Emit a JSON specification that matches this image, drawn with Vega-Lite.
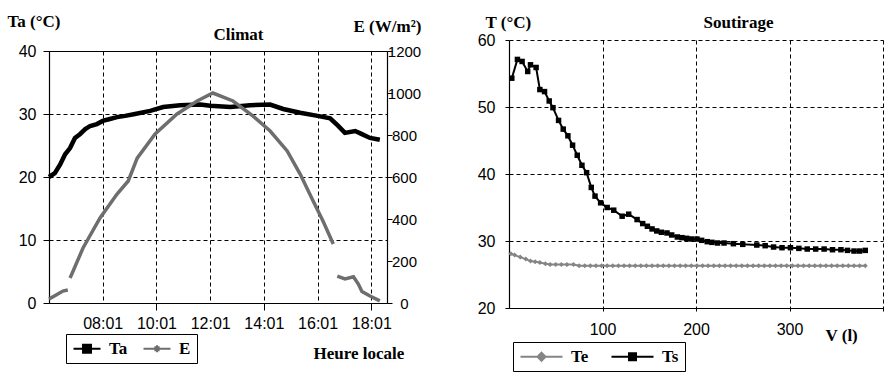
{
  "$schema": "https://vega.github.io/schema/vega-lite/v6.json",
  "background": "white",
  "padding": {"left": 7, "top": 12, "right": 0, "bottom": 0},
  "bounds": "flush",
  "spacing": 460,
  "resolve": {"scale": {"x": "independent", "y": "independent", "color": "independent"}, "legend": {"color": "independent"}},
  "hconcat": [
    {
      "bounds": "flush",
      "spacing": 10,
      "vconcat": [
        {"width": 338, "height": 1, "data": {"values": [{"a": 1}]}, "mark": {"type": "text", "text": ""}, "encoding": {}},
        {
          "width": 338,
          "height": 252,
          "resolve": {"scale": {"y": "independent"}},
          "layer": [
            {
              "data": {"values": [
                {"t": "06:01", "Ta": 20}, {"t": "06:14", "Ta": 20.6}, {"t": "06:26", "Ta": 22}, {"t": "06:37", "Ta": 23.6},
                {"t": "06:48", "Ta": 24.6}, {"t": "06:59", "Ta": 26.2}, {"t": "07:10", "Ta": 26.8}, {"t": "07:22", "Ta": 27.6},
                {"t": "07:33", "Ta": 28.1}, {"t": "07:48", "Ta": 28.4}, {"t": "08:01", "Ta": 28.9}, {"t": "08:17", "Ta": 29.2},
                {"t": "08:33", "Ta": 29.5}, {"t": "08:51", "Ta": 29.7}, {"t": "09:13", "Ta": 30}, {"t": "09:47", "Ta": 30.5},
                {"t": "10:16", "Ta": 31.1}, {"t": "10:54", "Ta": 31.4}, {"t": "11:39", "Ta": 31.5}, {"t": "12:01", "Ta": 31.3},
                {"t": "12:46", "Ta": 31.1}, {"t": "13:30", "Ta": 31.4}, {"t": "14:15", "Ta": 31.5}, {"t": "14:44", "Ta": 30.8},
                {"t": "15:22", "Ta": 30.2}, {"t": "16:01", "Ta": 29.7}, {"t": "16:29", "Ta": 29.3}, {"t": "16:47", "Ta": 28.1},
                {"t": "17:02", "Ta": 27.0}, {"t": "17:25", "Ta": 27.3}, {"t": "17:40", "Ta": 26.8}, {"t": "17:58", "Ta": 26.2},
                {"t": "18:20", "Ta": 25.9}
              ], "format": {"parse": {"t": "date:'%H:%M'"}}},
              "mark": {"type": "line", "strokeWidth": 4.5},
              "encoding": {
                "x": {"field": "t", "type": "temporal",
                  "scale": {"domain": [{"year": 1900, "month": 1, "date": 1, "hours": 6, "minutes": 1}, {"year": 1900, "month": 1, "date": 1, "hours": 18, "minutes": 36}], "nice": false},
                  "axis": {"orient": "bottom", "format": "%H:%M",
                    "values": [{"year": 1900, "month": 1, "date": 1, "hours": 8, "minutes": 1}, {"year": 1900, "month": 1, "date": 1, "hours": 10, "minutes": 1}, {"year": 1900, "month": 1, "date": 1, "hours": 12, "minutes": 1}, {"year": 1900, "month": 1, "date": 1, "hours": 14, "minutes": 1}, {"year": 1900, "month": 1, "date": 1, "hours": 16, "minutes": 1}, {"year": 1900, "month": 1, "date": 1, "hours": 18, "minutes": 1}],
                    "grid": true, "tickSize": 7,
                    "tickOpacity": {"condition": {"test": "hours(datum.value) % 4 == 2", "value": 1}, "value": 0},
                    "labelPadding": 5, "labelFontSize": 16,
                    "title": "Heure locale", "titleX": 264, "titleY": 55, "titleAlign": "left", "titleBaseline": "alphabetic"}},
                "y": {"field": "Ta", "type": "quantitative", "scale": {"domain": [0, 40], "nice": false},
                  "axis": {"orient": "left", "values": [0, 10, 20, 30, 40], "grid": true, "tickSize": 6, "labelPadding": 7, "labelFontSize": 16,
                    "title": "Ta (°C)", "titleAngle": 0, "titleAlign": "left", "titleBaseline": "alphabetic", "titleX": -42, "titleY": -25}},
                "color": {"datum": "Ta", "type": "nominal",
                  "scale": {"domain": ["Ta", "E"], "range": ["#000000", "#6e6e6e"]},
                  "legend": {"orient": "none", "legendX": 17, "legendY": 294, "direction": "horizontal", "title": null,
                    "strokeColor": "black", "fillColor": "white", "padding": 6, "symbolSize": 196, "symbolStrokeWidth": 2,
                    "labelOffset": 20, "columnPadding": 11, "labelFont": "Liberation Serif", "labelFontWeight": "bold", "labelFontSize": 17, "labelColor": "black",
                    "symbolType": "M-1,0H2.857M0.36,-0.57H1.5V0.57H0.36Z",
                    "encode": {"symbols": {"update": {
                      "shape": {"signal": "datum.value == 'E' ? 'M-1,0H2.857M0.93,-0.5V0.5M0.7,-0.2H1.16V0.2H0.7Z' : 'M-1,0H2.857M0.36,-0.57H1.5V0.57H0.36Z'"},
                      "fill": {"signal": "datum.value == 'E' ? '#6e6e6e' : '#000000'"}}}}}}
              }
            },
            {
              "data": {"values": [
                {"t": "06:01", "E": 19, "seg": 1}, {"t": "06:14", "E": 35, "seg": 1}, {"t": "06:32", "E": 57, "seg": 1}, {"t": "06:43", "E": 62, "seg": 1},
                {"t": "06:48", "E": 119, "seg": 2}, {"t": "06:52", "E": 138, "seg": 2}, {"t": "07:17", "E": 262, "seg": 2}, {"t": "07:55", "E": 405, "seg": 2},
                {"t": "08:33", "E": 519, "seg": 2}, {"t": "08:58", "E": 581, "seg": 2}, {"t": "09:18", "E": 690, "seg": 2}, {"t": "09:58", "E": 805, "seg": 2},
                {"t": "10:47", "E": 900, "seg": 2}, {"t": "11:32", "E": 962, "seg": 2}, {"t": "12:07", "E": 1000, "seg": 2}, {"t": "12:52", "E": 962, "seg": 2},
                {"t": "13:37", "E": 890, "seg": 2}, {"t": "14:15", "E": 819, "seg": 2}, {"t": "14:53", "E": 724, "seg": 2}, {"t": "15:22", "E": 614, "seg": 2},
                {"t": "15:51", "E": 486, "seg": 2}, {"t": "16:13", "E": 390, "seg": 2}, {"t": "16:36", "E": 281, "seg": 2},
                {"t": "16:45", "E": 128, "seg": 3}, {"t": "17:02", "E": 115, "seg": 3}, {"t": "17:21", "E": 125, "seg": 3}, {"t": "17:32", "E": 90, "seg": 3},
                {"t": "17:40", "E": 55, "seg": 3}, {"t": "17:58", "E": 33, "seg": 3}, {"t": "18:20", "E": 10, "seg": 3}
              ], "format": {"parse": {"t": "date:'%H:%M'"}}},
              "mark": {"type": "line", "strokeWidth": 3.5},
              "encoding": {
                "x": {"field": "t", "type": "temporal",
                  "axis": {"orient": "top", "labels": false, "ticks": false, "grid": false, "domain": true, "domainWidth": 1.2,
                    "title": "Climat", "titleX": 189, "titleY": -12, "titleAlign": "center", "titleBaseline": "alphabetic"}},
                "y": {"field": "E", "type": "quantitative", "scale": {"domain": [0, 1200], "nice": false},
                  "axis": {"orient": "right", "values": [0, 200, 400, 600, 800, 1000, 1200], "format": "d", "grid": false, "tickSize": 5, "labelPadding": 12, "labelAlign": "center", "labelFontSize": 15,
                    "title": "E (W/m²)", "titleAngle": 0, "titleAlign": "left", "titleBaseline": "alphabetic", "titleX": -34, "titleY": -20}},
                "detail": {"field": "seg", "type": "nominal"},
                "color": {"datum": "E", "type": "nominal"}
              }
            }
          ]
        }
      ]
    },
    {
      "width": 374,
      "height": 268,
      "data": {"values": [
        {"s": "Te", "V": 2, "T": 28.1}, {"s": "Te", "V": 6, "T": 27.9}, {"s": "Te", "V": 12, "T": 27.6}, {"s": "Te", "V": 18, "T": 27.3},
        {"s": "Te", "V": 23, "T": 27.0}, {"s": "Te", "V": 28, "T": 26.9}, {"s": "Te", "V": 33, "T": 26.8}, {"s": "Te", "V": 39, "T": 26.6},
        {"s": "Te", "V": 44, "T": 26.5}, {"s": "Te", "V": 50, "T": 26.5}, {"s": "Te", "V": 56, "T": 26.5}, {"s": "Te", "V": 62, "T": 26.5},
        {"s": "Te", "V": 69, "T": 26.5}, {"s": "Te", "V": 75, "T": 26.3}, {"s": "Te", "V": 81, "T": 26.3}, {"s": "Te", "V": 87, "T": 26.3},
        {"s": "Te", "V": 93, "T": 26.3}, {"s": "Te", "V": 99, "T": 26.3}, {"s": "Te", "V": 105, "T": 26.3}, {"s": "Te", "V": 111, "T": 26.3},
        {"s": "Te", "V": 117, "T": 26.3}, {"s": "Te", "V": 123, "T": 26.3}, {"s": "Te", "V": 129, "T": 26.3}, {"s": "Te", "V": 135, "T": 26.3},
        {"s": "Te", "V": 141, "T": 26.3}, {"s": "Te", "V": 147, "T": 26.3}, {"s": "Te", "V": 153, "T": 26.3}, {"s": "Te", "V": 159, "T": 26.3},
        {"s": "Te", "V": 165, "T": 26.3}, {"s": "Te", "V": 171, "T": 26.3}, {"s": "Te", "V": 177, "T": 26.3}, {"s": "Te", "V": 183, "T": 26.3},
        {"s": "Te", "V": 189, "T": 26.3}, {"s": "Te", "V": 195, "T": 26.3}, {"s": "Te", "V": 201, "T": 26.3}, {"s": "Te", "V": 207, "T": 26.3},
        {"s": "Te", "V": 213, "T": 26.3}, {"s": "Te", "V": 219, "T": 26.3}, {"s": "Te", "V": 225, "T": 26.3}, {"s": "Te", "V": 231, "T": 26.3},
        {"s": "Te", "V": 237, "T": 26.3}, {"s": "Te", "V": 243, "T": 26.3}, {"s": "Te", "V": 249, "T": 26.3}, {"s": "Te", "V": 255, "T": 26.3},
        {"s": "Te", "V": 261, "T": 26.3}, {"s": "Te", "V": 267, "T": 26.3}, {"s": "Te", "V": 273, "T": 26.3}, {"s": "Te", "V": 279, "T": 26.3},
        {"s": "Te", "V": 285, "T": 26.3}, {"s": "Te", "V": 291, "T": 26.3}, {"s": "Te", "V": 297, "T": 26.3}, {"s": "Te", "V": 303, "T": 26.3},
        {"s": "Te", "V": 309, "T": 26.3}, {"s": "Te", "V": 315, "T": 26.3}, {"s": "Te", "V": 321, "T": 26.3}, {"s": "Te", "V": 327, "T": 26.3},
        {"s": "Te", "V": 333, "T": 26.3}, {"s": "Te", "V": 339, "T": 26.3}, {"s": "Te", "V": 345, "T": 26.3}, {"s": "Te", "V": 351, "T": 26.3},
        {"s": "Te", "V": 357, "T": 26.3}, {"s": "Te", "V": 363, "T": 26.3}, {"s": "Te", "V": 369, "T": 26.3}, {"s": "Te", "V": 375, "T": 26.3},
        {"s": "Te", "V": 381, "T": 26.3},
        {"s": "Ts", "V": 3, "T": 54.3}, {"s": "Ts", "V": 9, "T": 57.1}, {"s": "Ts", "V": 14, "T": 56.8}, {"s": "Ts", "V": 20, "T": 55.3},
        {"s": "Ts", "V": 23, "T": 56.3}, {"s": "Ts", "V": 29, "T": 55.9}, {"s": "Ts", "V": 33, "T": 52.6}, {"s": "Ts", "V": 38, "T": 52.3},
        {"s": "Ts", "V": 43, "T": 50.9}, {"s": "Ts", "V": 47, "T": 49.9}, {"s": "Ts", "V": 53, "T": 48.0}, {"s": "Ts", "V": 58, "T": 46.7},
        {"s": "Ts", "V": 63, "T": 45.7}, {"s": "Ts", "V": 68, "T": 44.3}, {"s": "Ts", "V": 73, "T": 42.8}, {"s": "Ts", "V": 78, "T": 41.3},
        {"s": "Ts", "V": 83, "T": 40.2}, {"s": "Ts", "V": 88, "T": 38.0}, {"s": "Ts", "V": 92, "T": 36.7}, {"s": "Ts", "V": 98, "T": 35.7},
        {"s": "Ts", "V": 105, "T": 35.0}, {"s": "Ts", "V": 112, "T": 34.6}, {"s": "Ts", "V": 121, "T": 33.7}, {"s": "Ts", "V": 128, "T": 34.0},
        {"s": "Ts", "V": 137, "T": 33.2}, {"s": "Ts", "V": 143, "T": 32.6}, {"s": "Ts", "V": 148, "T": 32.2}, {"s": "Ts", "V": 153, "T": 31.8},
        {"s": "Ts", "V": 158, "T": 31.5}, {"s": "Ts", "V": 163, "T": 31.3}, {"s": "Ts", "V": 169, "T": 31.2}, {"s": "Ts", "V": 174, "T": 30.9},
        {"s": "Ts", "V": 180, "T": 30.6}, {"s": "Ts", "V": 185, "T": 30.5}, {"s": "Ts", "V": 190, "T": 30.4}, {"s": "Ts", "V": 195, "T": 30.3},
        {"s": "Ts", "V": 201, "T": 30.3}, {"s": "Ts", "V": 206, "T": 30.1}, {"s": "Ts", "V": 212, "T": 29.9}, {"s": "Ts", "V": 217, "T": 29.8},
        {"s": "Ts", "V": 223, "T": 29.7}, {"s": "Ts", "V": 230, "T": 29.7}, {"s": "Ts", "V": 240, "T": 29.6}, {"s": "Ts", "V": 250, "T": 29.5},
        {"s": "Ts", "V": 265, "T": 29.4}, {"s": "Ts", "V": 274, "T": 29.3}, {"s": "Ts", "V": 283, "T": 29.1}, {"s": "Ts", "V": 292, "T": 29.0},
        {"s": "Ts", "V": 301, "T": 29.0}, {"s": "Ts", "V": 310, "T": 28.9}, {"s": "Ts", "V": 319, "T": 28.8}, {"s": "Ts", "V": 328, "T": 28.8},
        {"s": "Ts", "V": 337, "T": 28.8}, {"s": "Ts", "V": 346, "T": 28.7}, {"s": "Ts", "V": 355, "T": 28.7}, {"s": "Ts", "V": 362, "T": 28.6},
        {"s": "Ts", "V": 369, "T": 28.5}, {"s": "Ts", "V": 375, "T": 28.5}, {"s": "Ts", "V": 381, "T": 28.6}
      ]},
      "layer": [
        {
          "mark": {"type": "line", "strokeWidth": 2},
          "encoding": {
            "x": {"field": "V", "type": "quantitative", "scale": {"domain": [0, 400], "nice": false},
              "axis": {"orient": "bottom", "values": [100, 200, 300, 400], "labelExpr": "datum.value == 400 ? '' : datum.label",
                "grid": true, "tickSize": 3, "labelPadding": 10, "labelFontSize": 16,
                "title": "V (l)", "titleX": 316, "titleY": 32, "titleAlign": "left", "titleBaseline": "alphabetic"}},
            "y": {"field": "T", "type": "quantitative", "scale": {"domain": [20, 60], "nice": false},
              "axis": {"orient": "left", "values": [20, 30, 40, 50, 60], "grid": true, "tickSize": 4, "labelPadding": 10, "labelFontSize": 16,
                "title": "T (°C)", "titleAngle": 0, "titleAlign": "left", "titleBaseline": "alphabetic", "titleX": -24, "titleY": -13}},
            "color": {"field": "s", "type": "nominal",
              "scale": {"domain": ["Te", "Ts"], "range": ["#858585", "#000000"]},
              "legend": {"orient": "none", "legendX": 4, "legendY": 302, "direction": "horizontal", "title": null,
                "strokeColor": "black", "fillColor": "white", "padding": 6, "symbolSize": 196, "symbolStrokeWidth": 2,
                "labelOffset": 35, "columnPadding": 18, "labelFont": "Liberation Serif", "labelFontWeight": "bold", "labelFontSize": 17, "labelColor": "black",
                "symbolType": "M-1,0H5M1.5,-0.5H2.5V0.5H1.5Z",
                "encode": {"symbols": {"update": {
                  "shape": {"signal": "datum.value == 'Te' ? 'M-1,0H5M2,-0.57L2.57,0L2,0.57L1.43,0Z' : 'M-1,0H5M1.5,-0.5H2.5V0.5H1.5Z'"},
                  "fill": {"signal": "datum.value == 'Te' ? '#858585' : '#000000'"}}}}}}
          }
        },
        {
          "transform": [{"filter": "datum.s == 'Te'"}],
          "mark": {"type": "point", "filled": true, "size": 25, "shape": "diamond", "color": "#858585", "opacity": 1},
          "encoding": {
            "x": {"field": "V", "type": "quantitative",
              "axis": {"orient": "top", "labels": false, "ticks": false, "grid": false, "domain": false,
                "title": "Soutirage", "titleX": 229, "titleY": -13, "titleAlign": "center", "titleBaseline": "alphabetic"}},
            "y": {"field": "T", "type": "quantitative"}
          }
        },
        {
          "transform": [{"filter": "datum.s == 'Ts'"}],
          "mark": {"type": "point", "filled": true, "size": 30, "shape": "square", "color": "#000000", "opacity": 1},
          "encoding": {
            "x": {"field": "V", "type": "quantitative", "axis": null},
            "y": {"field": "T", "type": "quantitative"}
          }
        }
      ]
    }
  ],
  "config": {
    "view": {"stroke": null},
    "axis": {
      "domainColor": "black", "tickColor": "black", "labelColor": "black", "gridColor": "black",
      "gridDash": [4, 3], "gridWidth": 1, "domainWidth": 1.2,
      "labelFont": "Liberation Sans", "titleFont": "Liberation Serif", "titleFontWeight": "bold",
      "titleFontSize": 17, "titleColor": "black", "labelFlush": false, "labelOverlap": false
    }
  }
}
